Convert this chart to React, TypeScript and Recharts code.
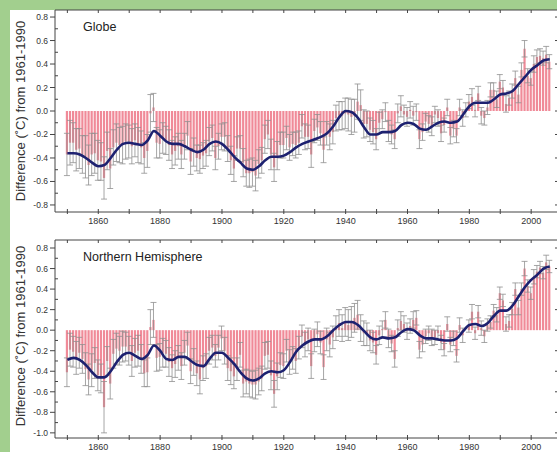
import React from "react";
import { ComposedChart, Bar, Line, XAxis, YAxis, ErrorBar } from "recharts";

const START_YEAR = 1850;

// Global annual anomalies (°C vs 1961-1990), 1850-2006
const globeValues = [
  -0.37, -0.27, -0.27, -0.33, -0.32, -0.37, -0.39, -0.46, -0.37, -0.36,
  -0.42, -0.43, -0.57, -0.34, -0.49, -0.31, -0.27, -0.29, -0.29, -0.26,
  -0.26, -0.30, -0.25, -0.29, -0.31, -0.40, -0.34, -0.02, 0.03, -0.27,
  -0.28, -0.23, -0.25, -0.29, -0.37, -0.34, -0.30, -0.37, -0.30, -0.21,
  -0.43, -0.35, -0.40, -0.41, -0.38, -0.36, -0.26, -0.23, -0.40, -0.30,
  -0.22, -0.22, -0.32, -0.42, -0.49, -0.32, -0.32, -0.44, -0.53, -0.53,
  -0.52, -0.55, -0.45, -0.42, -0.24, -0.20, -0.37, -0.48, -0.38, -0.29,
  -0.29, -0.23, -0.31, -0.28, -0.29, -0.27, -0.13, -0.22, -0.22, -0.37,
  -0.17, -0.14, -0.19, -0.33, -0.19, -0.22, -0.18, -0.06, -0.04, -0.04,
  -0.02, -0.03, -0.05, -0.04, 0.08, 0.05, -0.11, -0.11, -0.16, -0.18,
  -0.24, -0.10, -0.07, -0.01, -0.17, -0.20, -0.24, -0.02, 0.04, -0.03,
  -0.05, 0.01, -0.04, -0.01, -0.24, -0.18, -0.09, -0.11, -0.13, -0.03,
  -0.06, -0.19, -0.12, 0.03, -0.21, -0.15, -0.21, 0.03, -0.06, 0.01,
  0.08, 0.12, 0.01, 0.15, -0.04, -0.06, 0.03, 0.18, 0.18, 0.10,
  0.25, 0.20, 0.06, 0.11, 0.17, 0.28, 0.14, 0.35, 0.53, 0.30,
  0.28, 0.40, 0.46, 0.47, 0.45, 0.48, 0.42,
];

const globeErr = [
  0.18, 0.19, 0.17, 0.18, 0.17, 0.16, 0.18, 0.17, 0.18, 0.17,
  0.17, 0.16, 0.18, 0.16, 0.17, 0.15, 0.16, 0.15, 0.16, 0.15,
  0.14, 0.15, 0.14, 0.15, 0.14, 0.13, 0.14, 0.16, 0.12, 0.13,
  0.12, 0.13, 0.12, 0.13, 0.12, 0.12, 0.11, 0.12, 0.11, 0.12,
  0.11, 0.12, 0.11, 0.12, 0.11, 0.11, 0.12, 0.11, 0.10, 0.11,
  0.11, 0.12, 0.11, 0.12, 0.11, 0.10, 0.11, 0.12, 0.11, 0.12,
  0.12, 0.13, 0.12, 0.11, 0.12, 0.12, 0.13, 0.12, 0.12, 0.11,
  0.11, 0.10, 0.11, 0.10, 0.11, 0.10, 0.10, 0.11, 0.10, 0.11,
  0.10, 0.11, 0.10, 0.11, 0.10, 0.11, 0.10, 0.11, 0.12, 0.12,
  0.13, 0.14, 0.15, 0.14, 0.15, 0.13, 0.12, 0.11, 0.10, 0.10,
  0.09, 0.09, 0.08, 0.08, 0.09, 0.08, 0.08, 0.08, 0.09, 0.08,
  0.08, 0.07, 0.08, 0.07, 0.08, 0.07, 0.07, 0.07, 0.08, 0.07,
  0.07, 0.07, 0.06, 0.07, 0.07, 0.07, 0.06, 0.07, 0.07, 0.06,
  0.06, 0.07, 0.06, 0.06, 0.07, 0.06, 0.06, 0.06, 0.06, 0.07,
  0.06, 0.06, 0.07, 0.06, 0.06, 0.06, 0.07, 0.06, 0.07, 0.06,
  0.06, 0.07, 0.06, 0.06, 0.06, 0.07, 0.06,
];

// Northern Hemisphere annual anomalies, 1850-2006
const nhValues = [
  -0.41, -0.19, -0.21, -0.27, -0.22, -0.28, -0.38, -0.48, -0.39, -0.32,
  -0.44, -0.47, -0.75, -0.30, -0.52, -0.23, -0.18, -0.20, -0.16, -0.16,
  -0.20, -0.30, -0.22, -0.20, -0.28, -0.42, -0.41, 0.03, 0.10, -0.27,
  -0.26, -0.22, -0.23, -0.31, -0.37, -0.33, -0.27, -0.35, -0.22, -0.15,
  -0.40, -0.31, -0.42, -0.48, -0.37, -0.35, -0.20, -0.17, -0.25, -0.17,
  -0.08, -0.20, -0.37, -0.40, -0.45, -0.38, -0.24, -0.52, -0.50, -0.52,
  -0.53, -0.53, -0.50, -0.47, -0.25, -0.24, -0.44, -0.62, -0.45, -0.34,
  -0.35, -0.20, -0.31, -0.27, -0.30, -0.17, -0.06, -0.14, -0.09, -0.35,
  -0.10, -0.04, -0.12, -0.36, -0.09, -0.14, -0.07, 0.02, 0.07, 0.02,
  0.08, 0.05, 0.08, 0.12, 0.15, 0.02, -0.03, -0.04, -0.10, -0.12,
  -0.24, -0.05, 0.01, 0.10, -0.08, -0.13, -0.28, 0.02, 0.09, 0.06,
  -0.01, 0.04, 0.10, 0.12, -0.19, -0.14, -0.06, -0.03, -0.07, -0.07,
  -0.03, -0.12, -0.19, 0.06, -0.14, -0.08, -0.25, 0.05, -0.05, 0.00,
  0.04, 0.18, -0.03, 0.18, 0.02, -0.06, 0.05, 0.08, 0.19, 0.15,
  0.36, 0.29, 0.06, 0.09, 0.21, 0.40, 0.22, 0.40, 0.60, 0.43,
  0.36, 0.52, 0.57, 0.61, 0.56, 0.66, 0.62,
];

const nhErr = [
  0.14, 0.16, 0.15, 0.16, 0.15, 0.14, 0.16, 0.15, 0.16, 0.15,
  0.15, 0.14, 0.25, 0.14, 0.15, 0.14, 0.15, 0.14, 0.15, 0.14,
  0.14, 0.15, 0.14, 0.15, 0.14, 0.13, 0.14, 0.17, 0.17, 0.13,
  0.13, 0.14, 0.13, 0.14, 0.13, 0.13, 0.12, 0.13, 0.12, 0.13,
  0.12, 0.13, 0.12, 0.14, 0.12, 0.12, 0.13, 0.12, 0.11, 0.12,
  0.12, 0.13, 0.12, 0.13, 0.12, 0.11, 0.12, 0.13, 0.12, 0.13,
  0.13, 0.14, 0.13, 0.12, 0.13, 0.13, 0.14, 0.13, 0.13, 0.12,
  0.12, 0.11, 0.12, 0.11, 0.12, 0.11, 0.11, 0.12, 0.11, 0.12,
  0.11, 0.12, 0.11, 0.12, 0.11, 0.12, 0.11, 0.12, 0.13, 0.13,
  0.14, 0.15, 0.15, 0.14, 0.14, 0.13, 0.12, 0.11, 0.10, 0.10,
  0.09, 0.09, 0.08, 0.08, 0.09, 0.08, 0.08, 0.08, 0.09, 0.08,
  0.08, 0.07, 0.08, 0.07, 0.08, 0.07, 0.07, 0.07, 0.08, 0.07,
  0.07, 0.07, 0.06, 0.07, 0.07, 0.07, 0.06, 0.07, 0.07, 0.06,
  0.06, 0.07, 0.06, 0.06, 0.07, 0.06, 0.06, 0.06, 0.06, 0.07,
  0.06, 0.06, 0.07, 0.06, 0.06, 0.06, 0.07, 0.06, 0.07, 0.06,
  0.06, 0.07, 0.06, 0.06, 0.06, 0.07, 0.06,
];

// Smoothed curves (read every 2 years)
const smoothYears = [
  1850, 1852, 1854, 1856, 1858, 1860, 1862, 1864, 1866, 1868,
  1870, 1872, 1874, 1876, 1878, 1880, 1882, 1884, 1886, 1888,
  1890, 1892, 1894, 1896, 1898, 1900, 1902, 1904, 1906, 1908,
  1910, 1912, 1914, 1916, 1918, 1920, 1922, 1924, 1926, 1928,
  1930, 1932, 1934, 1936, 1938, 1940, 1942, 1944, 1946, 1948,
  1950, 1952, 1954, 1956, 1958, 1960, 1962, 1964, 1966, 1968,
  1970, 1972, 1974, 1976, 1978, 1980, 1982, 1984, 1986, 1988,
  1990, 1992, 1994, 1996, 1998, 2000, 2002, 2004, 2006,
];

const globeSmooth = [
  -0.36, -0.36, -0.37, -0.40, -0.44, -0.47, -0.46, -0.40, -0.33, -0.28,
  -0.27, -0.28, -0.29, -0.25, -0.17, -0.21, -0.26, -0.28, -0.28, -0.30,
  -0.33, -0.35, -0.33, -0.28, -0.26, -0.28, -0.33, -0.39, -0.44, -0.49,
  -0.50, -0.47, -0.42, -0.39, -0.39, -0.38, -0.35, -0.31, -0.28, -0.26,
  -0.24, -0.22, -0.19, -0.13, -0.05, 0.0, -0.01, -0.06, -0.14, -0.20,
  -0.20, -0.18, -0.18, -0.17, -0.12, -0.10, -0.11, -0.15, -0.16, -0.13,
  -0.10, -0.09, -0.10, -0.09, -0.03, 0.04, 0.07, 0.07, 0.07, 0.10,
  0.14, 0.15, 0.17, 0.23, 0.29, 0.35, 0.39, 0.43, 0.44,
];

const nhSmooth = [
  -0.29, -0.27, -0.29, -0.34, -0.41, -0.46, -0.46, -0.40, -0.31, -0.24,
  -0.22, -0.25, -0.28, -0.24, -0.15, -0.20, -0.28, -0.29, -0.26, -0.26,
  -0.30, -0.34, -0.35, -0.28, -0.22, -0.22, -0.27, -0.33, -0.41, -0.47,
  -0.49, -0.47, -0.42, -0.40, -0.41, -0.39, -0.31, -0.21, -0.15, -0.11,
  -0.09, -0.09, -0.06, 0.0, 0.05, 0.08, 0.08, 0.05, -0.01, -0.07,
  -0.09, -0.07, -0.08, -0.07, -0.02, 0.01, 0.0, -0.05, -0.08, -0.08,
  -0.09, -0.10, -0.10, -0.08, -0.01, 0.05, 0.06, 0.04, 0.07, 0.14,
  0.19, 0.19, 0.24, 0.33, 0.42, 0.49, 0.54, 0.60, 0.62,
];

const xTicks = [1850, 1860, 1870, 1880, 1890, 1900, 1910, 1920, 1930, 1940, 1950, 1960, 1970, 1980, 1990, 2000];
const yTicksTop = [-0.8, -0.7, -0.6, -0.5, -0.4, -0.3, -0.2, -0.1, 0, 0.1, 0.2, 0.3, 0.4, 0.5, 0.6, 0.7, 0.8];
const yTicksBottom = [-1.0, -0.9, -0.8, -0.7, -0.6, -0.5, -0.4, -0.3, -0.2, -0.1, 0, 0.1, 0.2, 0.3, 0.4, 0.5, 0.6, 0.7, 0.8];

const AXIS = "#444";
const TXT = "#333";
const FONT = "'Liberation Sans', Arial, sans-serif";

function buildRows(values: number[], errs: number[], smooth: number[]) {
  const sm: Record<number, number> = {};
  smoothYears.forEach((y, i) => (sm[y] = smooth[i]));
  return values.map((v, i) => {
    const year = START_YEAR + i;
    return { year, v, err: errs[i], s: sm[year] !== undefined ? sm[year] : null };
  });
}

const isMajor = (v: number) => Math.abs(Math.round(v * 10)) % 2 === 0;

const LeftTick = (props: any) => {
  const { x, y, payload } = props;
  const v = payload.value as number;
  const major = isMajor(v);
  return (
    <g>
      <line x1={x} x2={major ? x - 5 : x + 3} y1={y} y2={y} stroke={AXIS} strokeWidth={1} />
      {major && (
        <text x={x - 7} y={y} dy={3} textAnchor="end" fontSize={8.5} fill={TXT} fontFamily={FONT}>
          {v.toFixed(1)}
        </text>
      )}
    </g>
  );
};

const RightTick = (props: any) => {
  const { x, y, payload } = props;
  const major = isMajor(payload.value);
  return <line x1={x} x2={x - (major ? 4 : 2)} y1={y} y2={y} stroke={AXIS} strokeWidth={1} />;
};

const BottomTick = (props: any) => {
  const { x, y, payload } = props;
  const v = payload.value as number;
  return (
    <g>
      <line x1={x} x2={x} y1={y - 3} y2={y + 2} stroke={AXIS} strokeWidth={1} />
      {v % 20 === 0 && (
        <text x={x} y={y + 12} textAnchor="middle" fontSize={9} fill={TXT} fontFamily={FONT}>
          {v}
        </text>
      )}
    </g>
  );
};

const TopTick = (props: any) => {
  const { x, y } = props;
  return <line x1={x} x2={x} y1={y} y2={y + 3} stroke={AXIS} strokeWidth={1} />;
};

function Panel(props: {
  rows: any[];
  top: number;
  height: number;
  topH: number;
  bottomH: number;
  domain: [number, number];
  ticks: number[];
}) {
  const { rows, top, height, topH, bottomH, domain, ticks } = props;
  return (
    <div style={{ position: "absolute", left: 0, top, width: 562, height }}>
      <ComposedChart
        width={562}
        height={height}
        data={rows}
        margin={{ top: 0, bottom: 0, left: 0, right: 0 }}
      >
        <XAxis
          dataKey="year"
          type="number"
          domain={[1846, 2009]}
          allowDataOverflow
          ticks={xTicks}
          interval={0}
          height={bottomH}
          tickSize={0}
          tickMargin={0}
          tickLine={false}
          axisLine={{ stroke: AXIS, strokeWidth: 1 }}
          tick={BottomTick}
        />
        <XAxis
          xAxisId="t"
          orientation="top"
          dataKey="year"
          type="number"
          domain={[1846, 2009]}
          allowDataOverflow
          ticks={xTicks}
          interval={0}
          height={topH}
          tickSize={0}
          tickMargin={0}
          tickLine={false}
          axisLine={{ stroke: AXIS, strokeWidth: 1 }}
          tick={TopTick}
        />
        <YAxis
          type="number"
          domain={domain}
          allowDataOverflow
          ticks={ticks}
          interval={0}
          width={55}
          tickSize={0}
          tickMargin={0}
          tickLine={false}
          axisLine={{ stroke: AXIS, strokeWidth: 1 }}
          tick={LeftTick}
        />
        <YAxis
          yAxisId="r"
          orientation="right"
          type="number"
          domain={domain}
          allowDataOverflow
          ticks={ticks}
          interval={0}
          width={3}
          tickSize={0}
          tickMargin={0}
          tickLine={false}
          axisLine={{ stroke: AXIS, strokeWidth: 1 }}
          tick={RightTick}
        />
        <Bar dataKey="v" fill="#f08a98" barSize={2.2} isAnimationActive={false}>
          <ErrorBar dataKey="err" width={3} stroke="#8f8f8f" strokeWidth={0.8} direction="y" isAnimationActive={false} />
        </Bar>
        <Line
          dataKey="s"
          type="monotone"
          connectNulls
          dot={false}
          stroke="#1d2170"
          strokeWidth={2.6}
          isAnimationActive={false}
        />
      </ComposedChart>
    </div>
  );
}

const yLabel = "Difference (˚C) from 1961-1990";

export default function App() {
  const globeRows = buildRows(globeValues, globeErr, globeSmooth);
  const nhRows = buildRows(nhValues, nhErr, nhSmooth);
  const labelStyle: React.CSSProperties = {
    position: "absolute",
    width: 220,
    textAlign: "center",
    fontFamily: FONT,
    fontSize: 13,
    color: TXT,
    transform: "rotate(-90deg)",
    whiteSpace: "nowrap",
    lineHeight: "14px",
  };
  return (
    <div
      style={{
        position: "absolute",
        left: 0,
        top: 0,
        width: 557,
        height: 452,
        overflow: "hidden",
        background: "#a2cf8e",
      }}
    >
      <div style={{ position: "absolute", left: 10, top: 10, width: 560, height: 460, background: "#fff" }} />
      <Panel rows={globeRows} top={0} height={225} topH={10} bottomH={13} domain={[-0.86, 0.86]} ticks={yTicksTop} />
      <Panel rows={nhRows} top={225} height={227} topH={15} bottomH={14} domain={[-1.05, 0.878]} ticks={yTicksBottom} />
      <div style={{ ...labelStyle, left: 21 - 110, top: 111 - 7 }}>{yLabel}</div>
      <div style={{ ...labelStyle, left: 21 - 110, top: 336 - 7 }}>{yLabel}</div>
      <div style={{ position: "absolute", left: 83, top: 20, fontFamily: FONT, fontSize: 12.5, color: "#222" }}>Globe</div>
      <div style={{ position: "absolute", left: 83, top: 250, fontFamily: FONT, fontSize: 12.5, color: "#222" }}>
        Northern Hemisphere
      </div>
    </div>
  );
}
